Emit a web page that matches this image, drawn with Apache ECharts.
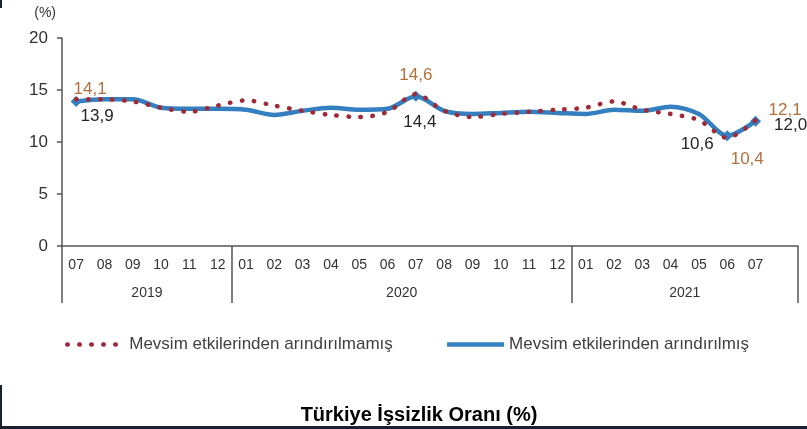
<!DOCTYPE html>
<html><head><meta charset="utf-8">
<script src="https://cdn.jsdelivr.net/npm/echarts@6/dist/echarts.min.js"></script>
<style>html,body{margin:0;padding:0;background:#fff}#c{width:807px;height:429px}</style>
</head><body><div id="c"></div>
<script>
// Month tick labels (last band is an empty category at the end of the axis box)
const months = ['07','08','09','10','11','12','01','02','03','04','05','06','07','08','09','10','11','12','01','02','03','04','05','06','07',''];
const monthYears = ['2019','2019','2019','2019','2019','2019',
  '2020','2020','2020','2020','2020','2020','2020','2020','2020','2020','2020','2020',
  '2021','2021','2021','2021','2021','2021','2021','2021'];
// Mevsim etkilerinden arındırılmamış (unadjusted)
const arindirilmamis = [14.1,14.1,13.9,13.3,12.9,13.5,14.0,13.5,13.0,12.6,12.4,12.9,14.6,13.0,12.4,12.7,12.9,13.1,13.3,13.9,13.1,12.7,12.1,10.4,12.1];
// Mevsim etkilerinden arındırılmış (seasonally adjusted)
const arindirilmis = [13.9,14.1,14.1,13.3,13.2,13.2,13.1,12.6,13.0,13.3,13.1,13.2,14.4,13.0,12.7,12.8,12.9,12.8,12.7,13.1,13.0,13.4,12.7,10.6,12.0];
const labelledIdx = [0, 12, 23, 24];
const yTicks = [0, 5, 10, 15, 20];

const nameRed = 'Mevsim etkilerinden arındırılmamış';
const nameBlue = 'Mevsim etkilerinden arındırılmış';
const FONT = 'Liberation Sans, Arial, sans-serif';
const ORANGE = '#b3703c';
const DARK = '#262626';

const redLabelPos = {
  0: {position: 'top', distance: 2, offset: [14, 0]},
  12: {position: 'top', distance: 10, offset: [0, 0]},
  23: {position: 'bottom', distance: 13, offset: [20, 0]},
  24: {position: 'right', distance: 13, offset: [0, -10]}
};
const blueLabelPos = {
  0: {position: 'bottom', distance: 1, offset: [21, 0]},
  12: {position: 'bottom', distance: 12, offset: [4, 0]},
  23: {position: 'left', distance: 8, offset: [0, 9]},
  24: {position: 'right', distance: 13, offset: [0, 4]}
};
function fmt(v){ return String(v.toFixed(1)).replace('.', ','); }

const redData = arindirilmamis.map((v, i) => {
  if (labelledIdx.indexOf(i) < 0) return v;
  return {value: v, symbol: 'circle', symbolSize: 0,
    label: Object.assign({show: true, color: ORANGE, fontSize: 17, fontFamily: FONT,
      formatter: p => fmt(p.value)}, redLabelPos[i])};
});
const blueData = arindirilmis.map((v, i) => {
  if (labelledIdx.indexOf(i) < 0) return v;
  return {value: v, symbol: 'diamond', symbolSize: 11,
    label: Object.assign({show: true, color: DARK, fontSize: 17, fontFamily: FONT,
      formatter: p => fmt(p.value)}, blueLabelPos[i])};
});

// year sections from monthYears
const sections = [];
monthYears.forEach((y, i) => {
  if (i === 0 || y !== monthYears[i - 1]) sections.push({year: y, start: i, end: i + 1});
  else sections[sections.length - 1].end = i + 1;
});
const boundaryIdx = sections.map(s => s.start);
const yearAtCenter = {};
sections.forEach(s => { yearAtCenter[(s.start + s.end) / 2] = s.year; });

const AX = '#555';
const chart = echarts.init(document.getElementById('c'), null, {renderer: 'canvas'});
chart.setOption({
  animation: false,
  backgroundColor: '#fff',
  title: {
    text: 'Türkiye İşsizlik Oranı (%)', left: 414, top: 400, textAlign: 'center',
    textStyle: {fontFamily: FONT, fontSize: 20, fontWeight: 'bold', color: '#000'}
  },
  legend: {
    data: [nameRed, nameBlue], left: 65, top: 336, itemWidth: 57, itemHeight: 14, itemGap: 52,
    padding: 0,
    itemStyle: {color: 'rgba(0,0,0,0)', borderWidth: 0, opacity: 0},
    lineStyle: {width: 4.5},
    textStyle: {fontFamily: FONT, fontSize: 17, color: '#404040'}
  },
  grid: {left: 62, right: 9, top: 38, bottom: 183},
  xAxis: [{
    type: 'category', data: months, boundaryGap: true,
    axisLine: {lineStyle: {color: AX, width: 1.5}},
    axisTick: {show: true, length: 57, lineStyle: {color: AX, width: 1.5},
      interval: (idx) => boundaryIdx.indexOf(idx) >= 0},
    axisLabel: {interval: 0, margin: 12, fontFamily: FONT, fontSize: 14, color: '#333'},
    splitLine: {show: false}
  }, {
    type: 'value', min: 0, max: months.length, interval: 1, position: 'bottom',
    axisLine: {show: false}, axisTick: {show: false}, splitLine: {show: false},
    axisLabel: {margin: 40, fontFamily: FONT, fontSize: 14, color: '#333',
      showMinLabel: true, showMaxLabel: true,
      formatter: v => yearAtCenter[v] || ''}
  }],
  yAxis: {
    type: 'value', min: yTicks[0], max: yTicks[yTicks.length - 1], interval: 5,
    name: '(%)', nameLocation: 'end', nameGap: 18,
    nameTextStyle: {fontFamily: FONT, fontSize: 14, color: '#333', align: 'right', padding: [0, 6, 0, 0]},
    axisLine: {show: true, lineStyle: {color: AX, width: 1.5}},
    axisTick: {show: true, length: 5, lineStyle: {color: AX, width: 1.5}},
    axisLabel: {margin: 14, fontFamily: FONT, fontSize: 17, color: '#333'},
    splitLine: {show: false}
  },
  series: [{
    name: nameRed, type: 'line', data: redData, xAxisIndex: 0, z: 4,
    symbol: 'none', showAllSymbol: true, smooth: 0.3,
    itemStyle: {color: '#9e2a38'},
    lineStyle: {color: '#9e2a38', width: 4.5, type: [0.5, 11.5], cap: 'round'}
  }, {
    name: nameBlue, type: 'line', data: blueData, xAxisIndex: 0, z: 3,
    symbol: 'none', showAllSymbol: true, smooth: 0.3,
    itemStyle: {color: '#337fc0'},
    lineStyle: {color: '#337fc0', width: 4.5}
  }],
  graphic: [
    {type: 'rect', shape: {x: 0, y: 0, width: 2, height: 8}, style: {fill: '#1b2030'}},
    {type: 'rect', shape: {x: 0, y: 385, width: 2, height: 44}, style: {fill: '#1b2030'}},
    {type: 'rect', shape: {x: 0, y: 426, width: 807, height: 3}, style: {fill: '#1b2030'}}
  ]
});
</script></body></html>
